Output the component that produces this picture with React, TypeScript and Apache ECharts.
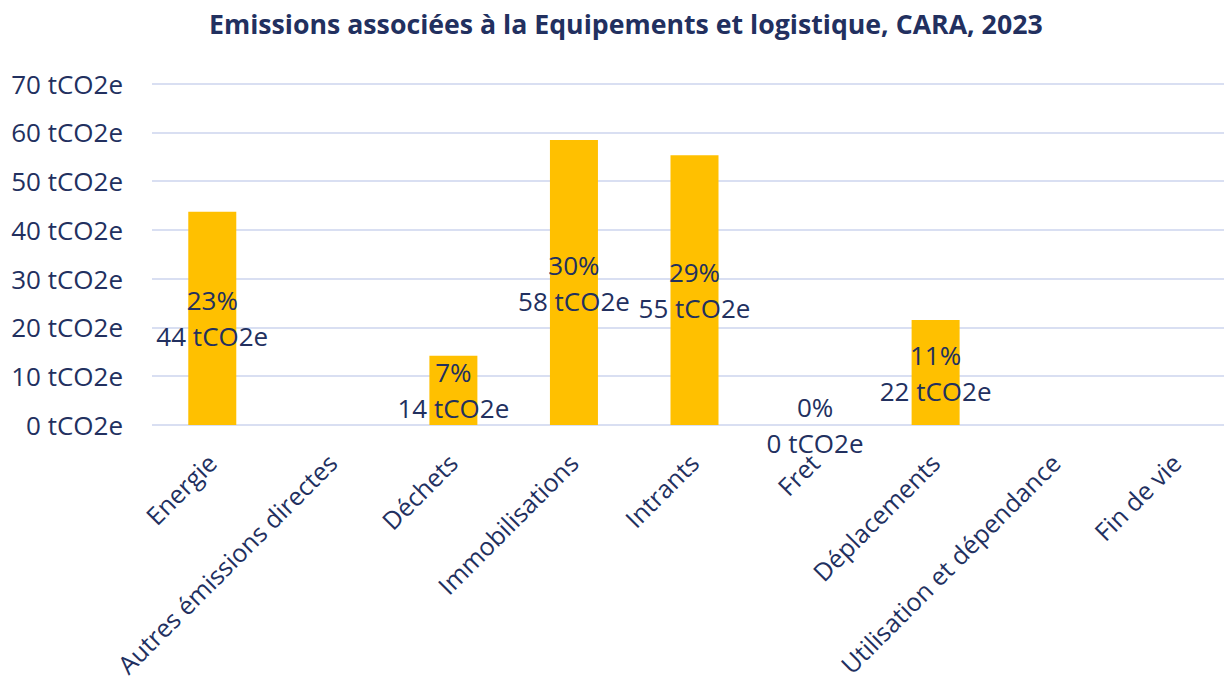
import React, { useEffect, useRef } from "react";
import * as echarts from "echarts";

const titleText = "Emissions associées à la Equipements et logistique, CARA, 2023";
const categories = [
  "Energie",
  "Autres émissions directes",
  "Déchets",
  "Immobilisations",
  "Intrants",
  "Fret",
  "Déplacements",
  "Utilisation et dépendance",
  "Fin de vie",
];
const emissions: (number | null)[] = [43.7, null, 14.2, 58.4, 55.3, 0, 21.5, null, null];
const shares: (number | null)[] = [23, null, 7, 30, 29, 0, 11, null, null];
const yTicks = [0, 10, 20, 30, 40, 50, 60, 70];

const NAVY = "#22305f";
const FONT = "'Open Sans', 'Noto Sans', sans-serif";

export default function App() {
  const ref = useRef<HTMLDivElement>(null);
  useEffect(() => {
    if (!ref.current) return;
    const chart = echarts.init(ref.current, null, { renderer: "svg" });
    chart.setOption({
      animation: false,
      backgroundColor: "#ffffff",
      title: {
        text: titleText,
        left: 204,
        top: 5,
        textStyle: { color: NAVY, fontFamily: FONT, fontSize: 26.7, fontWeight: "bold" },
      },
      grid: {
        left: 152,
        top: 83.5,
        width: 1085,
        height: 341.5,
        containLabel: false,
        outerBoundsMode: "none",
      },
      xAxis: {
        type: "category",
        data: categories,
        axisLine: { show: false },
        axisTick: { show: false },
        axisLabel: {
          interval: 0,
          rotate: 45,
          margin: 14,
          align: "right",
          verticalAlign: "top",
          lineHeight: 26,
          padding: [0, 14, 0, 0],
          color: NAVY,
          fontFamily: FONT,
          fontSize: 25,
        },
      },
      yAxis: {
        type: "value",
        min: yTicks[0],
        max: yTicks[yTicks.length - 1],
        interval: 10,
        axisLine: { show: false },
        axisTick: { show: false },
        splitLine: { lineStyle: { color: "#d9dff2", width: 2 } },
        axisLabel: {
          margin: 29,
          color: NAVY,
          fontFamily: FONT,
          fontSize: 26,
          formatter: (v: number) => `${v} tCO2e`,
        },
      },
      series: [
        {
          type: "bar",
          data: emissions,
          barWidth: 48,
          itemStyle: { color: "#ffc000" },
          label: {
            show: true,
            position: "inside",
            color: NAVY,
            fontFamily: FONT,
            fontSize: 26,
            lineHeight: 36,
            formatter: (p: any) => {
              const s = shares[p.dataIndex];
              if (p.value == null || s == null) return "";
              return `${s}%\n${Math.round(p.value)} tCO2e`;
            },
          },
        },
      ],
    });
    return () => chart.dispose();
  }, []);
  return (
    <div
      ref={ref}
      style={{
        position: "fixed",
        left: 0,
        top: 0,
        width: 1224,
        height: 682,
        overflow: "hidden",
        background: "#fff",
      }}
    />
  );
}
